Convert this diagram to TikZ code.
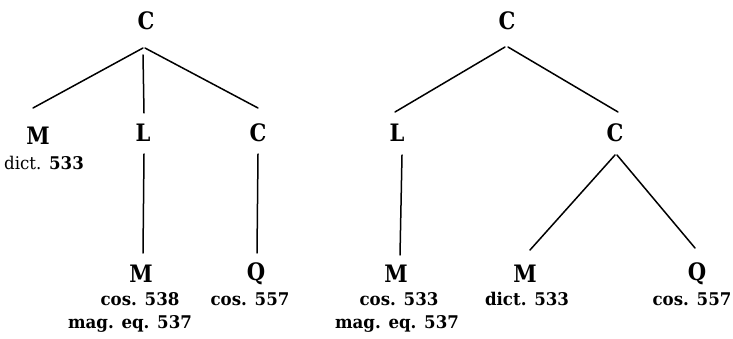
\documentclass[tikz,border=0pt]{standalone}
\usepackage{fontspec}
\usepackage{graphicx}
\usetikzlibrary{calc}
\newfontfamily\hv{DejaVu Serif}[BoldFont={* Bold}]
\newcommand\bigL[1]{\scalebox{0.88}[1]{#1}}
\newcommand\labL[1]{\scalebox{0.95}[1]{#1}}
\tikzset{
  letter/.style={font=\fontsize{24}{28}\hv\bfseries, inner sep=0pt, anchor=center},
  lab/.style={font=\fontsize{17.5}{21}\hv\bfseries, inner sep=0pt, anchor=base},
  edge/.style={line width=1.5pt, line cap=round}
}
\begin{document}
\begin{tikzpicture}[x=1pt,y=-1pt]
\useasboundingbox (0,0) rectangle (733,339);
% ---------- left tree ----------
\node[letter] (C1) at (146,21) {\bigL{C}};
\node[letter] (M1) at (38,136) {\bigL{M}};
\node[letter] (L1) at (143,133) {\bigL{L}};
\node[letter] (C2) at (258,133) {\bigL{C}};
\node[letter] (M2) at (141,274) {\bigL{M}};
\node[letter] (Q1) at (256,274) {\bigL{Q}};
\node[lab] (d1) at (44,170) {\labL{{\mdseries dict.} 533}};
\node[lab] (c1) at (140,305) {\labL{cos. 538}};
\node[lab] (g1) at (130,328) {\labL{mag. eq. 537}};
\node[lab] (c2) at (250,305) {\labL{cos. 557}};
\draw[edge] ($(C1)+(-3,27)$) -- ($(M1)+(-5,-28)$);
\draw[edge] ($(C1)+(-3,34)$) -- ($(L1)+(1,-20)$);
\draw[edge] ($(C1)+(-1,27)$) -- ($(C2)+(0,-25)$);
\draw[edge] ($(L1)+(1,21)$) -- ($(M2)+(2,-21)$);
\draw[edge] ($(C2)+(0,21)$) -- ($(Q1)+(1,-21)$);
% ---------- right tree ----------
\node[letter] (C3) at (507,21) {\bigL{C}};
\node[letter] (L2) at (397,133) {\bigL{L}};
\node[letter] (C4) at (615,133) {\bigL{C}};
\node[letter] (M3) at (396,274) {\bigL{M}};
\node[letter] (M4) at (525,274) {\bigL{M}};
\node[letter] (Q2) at (697,274) {\bigL{Q}};
\node[lab] (c3) at (399,305) {\labL{cos. 533}};
\node[lab] (g2) at (397,328) {\labL{mag. eq. 537}};
\node[lab] (d2) at (527,305) {\labL{dict. 533}};
\node[lab] (c4) at (692,305) {\labL{cos. 557}};
\draw[edge] ($(C3)+(-2,26)$) -- ($(L2)+(-2,-21)$);
\draw[edge] ($(C3)+(1,26)$) -- ($(C4)+(3,-21)$);
\draw[edge] ($(L2)+(5,22)$) -- ($(M3)+(4,-19)$);
\draw[edge] ($(C4)+(0,22)$) -- ($(M4)+(5,-24)$);
\draw[edge] ($(C4)+(2,22)$) -- ($(Q2)+(-2,-26)$);
\end{tikzpicture}
\end{document}
